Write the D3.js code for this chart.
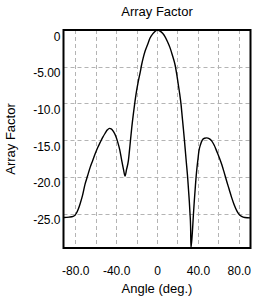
<!DOCTYPE html>
<html><head><meta charset="utf-8">
<script src="https://cdn.jsdelivr.net/npm/d3@7"></script>
<style>
html,body{margin:0;padding:0;background:#fff;}
svg{display:block;}
text{font-family:"Liberation Sans",Arial,sans-serif;fill:#000;}
</style></head>
<body>
<script>
const title = "Array Factor";
const xTitle = "Angle (deg.)";
const yTitle = "Array Factor";
const xTickValues = [-80, -40, 0, 40, 80];
const xTickLabels = ["-80.0", "-40.0", "0", "40.0", "80.0"];
const xGridValues = [-80, -60, -40, -20, 0, 20, 40, 60, 80];
const yTickValues = [0, -5, -10, -15, -20, -25];
const yTickLabels = ["0", "-5.00", "-10.0", "-15.0", "-20.0", "-25.0"];
const xDomain = [-91.5, 91.5];
const angles = [-91.5,-86,-82,-79,-77,-75.3,-73,-70.4,-68,-65.5,-63,-60.6,-58,-55.7,-53,-50.9,-48.5,-46.6,-44.5,-42.7,-40.5,-38.8,-36.5,-34.5,-32.8,-31.3,-29.8,-28,-26.5,-24.7,-23,-21.5,-20,-18.3,-16.5,-15,-13.5,-11.7,-9,-6.8,-4,-2,0.5,3,5.5,7.8,10.3,12.7,15.2,17.6,19.3,20.8,22.2,23.5,24.6,25.7,26.9,28,29,30,30.8,31.6,32.3,32.9,33.2,34.9,35.7,36.5,37.6,38.8,40,41,42.6,44.3,46.5,48.6,51,53.5,56,58.4,61,63.3,65.7,68.2,70.6,73,75.5,78,80.5,82.8,86,91.5];
const values = [-25.55,-25.5,-25.4,-25.0,-24.4,-23.7,-22.6,-21.0,-19.9,-18.75,-17.8,-16.9,-16.0,-15.35,-14.6,-14.1,-13.6,-13.4,-13.5,-13.8,-14.4,-15.1,-16.3,-17.8,-19.0,-19.9,-19.0,-17.8,-15.8,-13.3,-11.3,-9.7,-8.3,-7.0,-5.8,-4.7,-3.8,-2.9,-1.9,-1.1,-0.5,-0.2,0,-0.15,-0.45,-0.9,-1.6,-2.4,-3.5,-4.7,-6.0,-7.4,-8.7,-10.1,-11.7,-13.3,-15.1,-16.9,-18.5,-20.1,-21.7,-23.3,-25.0,-26.9,-29.7,-26.9,-25.0,-23.3,-21.2,-19.2,-17.7,-16.5,-15.6,-15.0,-14.75,-14.7,-14.8,-15.1,-15.7,-16.5,-17.4,-18.3,-19.4,-20.6,-21.7,-22.8,-23.8,-24.6,-25.15,-25.4,-25.55,-25.6];

(function () {
const W = 277, H = 301;
const mL = 63.5, mR = 250.5, mT = 30, mB = 248;
const data = angles.map((a, i) => ({a, v: values[i]}));

const svg = d3.select("body").append("svg").attr("width", W).attr("height", H);
const x = d3.scaleLinear().domain(xDomain).range([mL, mR]);
const y = d3.scaleLinear().domain([d3.min(values), d3.max(values)]).range([mB, mT]);

// grid
const grid = svg.append("g").attr("stroke", "#b4b4b4").attr("stroke-width", 1).attr("stroke-dasharray", "4,3");
grid.selectAll("line.v").data(xGridValues).join("line").attr("class", "v")
  .attr("x1", d => Math.round(x(d)) + 0.5).attr("x2", d => Math.round(x(d)) + 0.5)
  .attr("y1", mT).attr("y2", mB);
grid.selectAll("line.h").data(yTickValues.filter(d => d < 0)).join("line").attr("class", "h")
  .attr("y1", d => Math.round(y(d)) + 0.5).attr("y2", d => Math.round(y(d)) + 0.5)
  .attr("x1", mL).attr("x2", mR);

// curve
const line = d3.line().x(d => x(d.a)).y(d => y(d.v)).curve(d3.curveMonotoneX);
svg.append("path").datum(data).attr("d", line)
  .attr("fill", "none").attr("stroke", "#000").attr("stroke-width", 1.4);

// frame
svg.append("rect").attr("x", mL).attr("y", mT).attr("width", mR - mL).attr("height", mB - mT)
  .attr("fill", "none").attr("stroke", "#000").attr("stroke-width", 2);

// axes
const xAxis = d3.axisBottom(x).tickValues(xTickValues).tickSize(0)
  .tickFormat((d, i) => xTickLabels[i]);
const gx = svg.append("g").attr("transform", `translate(0,${mB})`).call(xAxis);
gx.select(".domain").remove();
gx.selectAll("text").attr("font-size", 12).attr("font-family", "Liberation Sans, Arial, sans-serif")
  .attr("y", 27).attr("dy", 0);

const yAxis = d3.axisLeft(y).tickValues(yTickValues).tickSize(0)
  .tickFormat((d, i) => yTickLabels[i]);
const gy = svg.append("g").attr("transform", `translate(${mL},0)`).call(yAxis);
gy.select(".domain").remove();
gy.selectAll("text").attr("font-size", 12).attr("font-family", "Liberation Sans, Arial, sans-serif")
  .attr("x", -3).attr("dy", 10);

// titles
svg.append("text").attr("x", 157).attr("y", 16).attr("text-anchor", "middle").attr("font-size", 13).text(title);
svg.append("text").attr("x", 157).attr("y", 293).attr("text-anchor", "middle").attr("font-size", 13).text(xTitle);
svg.append("text").attr("transform", `translate(15,${(mT + mB) / 2}) rotate(-90)`)
  .attr("text-anchor", "middle").attr("font-size", 13).text(yTitle);
})();
</script>
</body></html>
